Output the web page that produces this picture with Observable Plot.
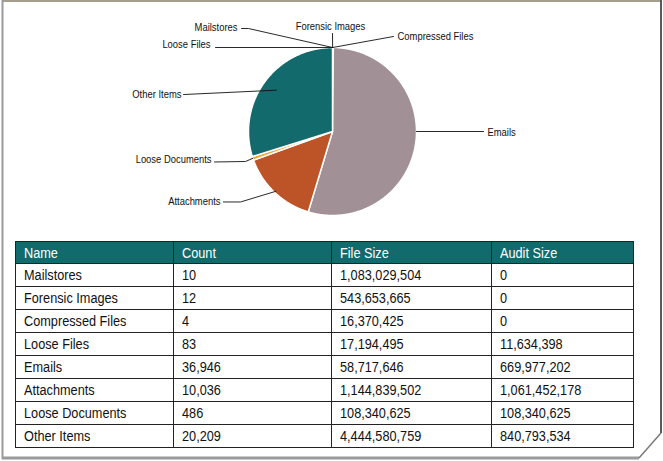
<!DOCTYPE html>
<html><head><meta charset="utf-8">
<script src="https://cdn.jsdelivr.net/npm/d3@7"></script>
<script src="https://cdn.jsdelivr.net/npm/@observablehq/plot@0.6"></script>
<style>
body{margin:0;background:#fff;}
#wrap{position:relative;width:663px;height:461px;overflow:hidden;font-family:"Liberation Sans",Arial,sans-serif;}
#frame{position:absolute;left:0;top:0;}
#chart{position:absolute;left:0;top:0;}
#tbl{position:absolute;left:15px;top:241px;border-collapse:collapse;table-layout:fixed;width:618px;font-size:15.5px;color:#111;}
#tbl td,#tbl th{border:1px solid #222;padding:0 0 0 8px;text-align:left;font-weight:normal;white-space:nowrap;overflow:visible;}
#tbl th{background:#116a6c;color:#fff;height:21px;}
#tbl td{height:22px;}
#tbl span{display:inline-block;transform:scaleX(0.82);transform-origin:0 50%;}
</style></head>
<body>
<div id="wrap">
<svg id="frame" width="663" height="461">
  <line x1="2" y1="1" x2="661" y2="1" stroke="#a59c8c" stroke-width="2"/>
  <line x1="2.5" y1="0" x2="2.5" y2="459" stroke="#9a9a9a" stroke-width="2"/>
  <line x1="661" y1="0" x2="661" y2="433" stroke="#5a5a5a" stroke-width="2"/>
  <line x1="2" y1="458" x2="639" y2="458" stroke="#9a9a9a" stroke-width="3"/>
  <line x1="639" y1="458" x2="661" y2="433" stroke="#7a7a7a" stroke-width="1.5"/>
</svg>
<div id="chart"></div>
<table id="tbl"></table>
</div>
<script>
// ---- data ----
const names = ["Mailstores","Forensic Images","Compressed Files","Loose Files","Emails","Attachments","Loose Documents","Other Items"];
const counts = [10,12,4,83,36946,10036,486,20209];
const fileSizes = [1083029504,543653665,16370425,17194495,58717646,1144839502,108340625,4444580759];
const auditSizes = [0,0,0,11634398,669977202,1061452178,108340625,840793534];
const columns = ["Name","Count","File Size","Audit Size"];
const sliceColors = ["#6f8f3a","#4f7aa0","#d8c07a","#8a6d9a","#a19196","#bd5428","#f2a93a","#136a6c"];

// ---- label layout (in pie-radius units, centre = 0,0, y down) ----
const labelLayout = [
  {name:"Mailstores",       tx:-1.131, ty:-1.238, anchor:"end",    line:[[-1.083,-1.226],[-1.0,-1.226]], r:1.0},
  {name:"Forensic Images",  tx:-0.024, ty:-1.25,  anchor:"middle", line:[[0,-1.167]], r:1.0},
  {name:"Compressed Files", tx:0.774,  ty:-1.137, anchor:"start",  line:[[0.726,-1.131]], r:1.0},
  {name:"Loose Files",      tx:-1.452, ty:-1.036, anchor:"end",    line:[[-1.393,-1.0]], r:1.0},
  {name:"Emails",           tx:1.845,  ty:0.012,  anchor:"start",  line:[[1.798,0.0]], r:1.0, angle:Math.PI/2},
  {name:"Attachments",      tx:-1.333, ty:0.833,  anchor:"end",    line:[[-1.298,0.839],[-1.095,0.839]], r:0.98},
  {name:"Loose Documents",  tx:-1.44,  ty:0.327,  anchor:"end",    line:[[-1.405,0.363],[-1.036,0.357]], r:1.0},
  {name:"Other Items",      tx:-1.798, ty:-0.44,  anchor:"end",    line:[[-1.774,-0.44]], r:0.83}
];

// ---- pie geometry (unit circle) ----
const W = 663, H = 232, CX = 332, CY = 131, R = 84;
const arcs = d3.pie().sort(null).value(d => d.count)(names.map((n,i)=>({name:n,count:counts[i]})));
const slicePts = [];
for (const a of arcs) {
  const n = Math.max(2, Math.ceil((a.endAngle - a.startAngle) / (Math.PI/360)));
  slicePts.push({name:a.data.name, x:0, y:0});
  for (let k = 0; k <= n; k++) {
    const t = a.startAngle + (a.endAngle - a.startAngle) * k / n;
    slicePts.push({name:a.data.name, x:Math.sin(t), y:-Math.cos(t)});
  }
}
const leaderPts = [];
for (const L of labelLayout) {
  const a = arcs.find(d => d.data.name === L.name);
  const ang = L.angle !== undefined ? L.angle : (a.startAngle + a.endAngle) / 2;
  L.line.forEach(p => leaderPts.push({name:L.name, x:p[0], y:p[1]}));
  leaderPts.push({name:L.name, x:L.r*Math.sin(ang), y:-L.r*Math.cos(ang)});
}

const textMark = (anc) => Plot.text(labelLayout.filter(d => d.anchor === anc),
  {x:"tx", y:"ty", text:"name", textAnchor:anc, fill:"#111"});

const chart = Plot.plot({
  width: W, height: H, margin: 0,
  style: {fontFamily:'"Liberation Sans",Arial,sans-serif', fontSize:"11.5px", background:"transparent", overflow:"visible"},
  x: {domain:[-CX/R, (W-CX)/R], range:[0,W], axis:null},
  y: {domain:[-CY/R, (H-CY)/R], range:[0,H], axis:null},
  color: {domain:names, range:sliceColors},
  marks: [
    Plot.line(slicePts, {x:"x", y:"y", z:"name", fill:"name", stroke:"white", strokeWidth:1.5, strokeLinejoin:"round", curve:"linear-closed"}),
    Plot.line(leaderPts, {x:"x", y:"y", z:"name", stroke:"#111", strokeWidth:0.9}),
    textMark("end"), textMark("start"), textMark("middle")
  ]
});
// condense label glyphs horizontally (narrow typeface look)
d3.select(chart).selectAll("text").each(function() {
  const t = this.getAttribute("transform") || "";
  this.setAttribute("transform", t + " scale(0.82,1)");
});
document.getElementById("chart").appendChild(chart);

// ---- table ----
const fmt = d3.format(",");
const tbl = d3.select("#tbl");
const colW = [158,158,160,142];
tbl.append("colgroup").selectAll("col").data(colW).join("col").style("width", d => d + "px");
tbl.append("thead").append("tr").selectAll("th").data(columns).join("th").append("span").text(d => d);
tbl.append("tbody").selectAll("tr").data(names.map((n,i)=>[n, fmt(counts[i]), fmt(fileSizes[i]), fmt(auditSizes[i])]))
  .join("tr").selectAll("td").data(d => d).join("td").append("span").text(d => d);
</script>
</body></html>
